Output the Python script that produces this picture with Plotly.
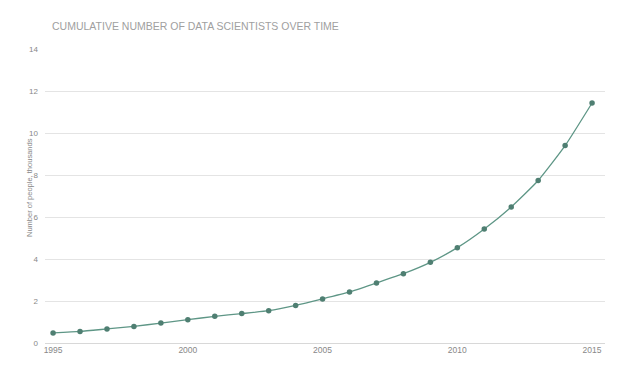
import plotly.graph_objects as go

years = list(range(1995, 2016))
values = [0.48, 0.55, 0.67, 0.79, 0.95, 1.11, 1.27, 1.40, 1.54, 1.79,
          2.10, 2.43, 2.86, 3.30, 3.84, 4.54, 5.43, 6.48, 7.74, 9.40, 11.43]
x_ticks = [1995, 2000, 2005, 2010, 2015]
y_ticks = [0, 2, 4, 6, 8, 10, 12, 14]

title_text = "CUMULATIVE NUMBER OF DATA SCIENTISTS OVER TIME"
y_title = "Number of people, thousands"

fig = go.Figure()
fig.add_trace(go.Scatter(
    x=years, y=values, mode="lines+markers",
    line=dict(color="#5e9686", width=1.3, shape="spline", smoothing=0.5),
    marker=dict(color="#4f7f72", size=5.5),
    showlegend=False, hoverinfo="skip",
))

# page has an 8px body margin, so the figure is shrunk/offset to compensate
fig.update_layout(
    width=632, height=359,
    margin=dict(l=37, r=35, t=41, b=24, autoexpand=False),
    paper_bgcolor="white", plot_bgcolor="white",
    font=dict(family="Liberation Sans, Arial, sans-serif", color="#888888"),
    xaxis=dict(
        range=[1994.70, 2015.48], tickvals=x_ticks,
        ticktext=[str(v) for v in x_ticks], automargin=False,
        showgrid=False, zeroline=False, showline=False,
        tickfont=dict(size=8.5, color="#888888"), ticks="",
    ),
    yaxis=dict(
        range=[0, 14], tickvals=y_ticks, automargin=False,
        showgrid=True, gridcolor="#e4e4e4", gridwidth=1,
        zeroline=True, zerolinecolor="#d8d8d8", zerolinewidth=1,
        showline=False, ticks="", ticklabelstandoff=6,
        tickfont=dict(size=8, color="#888888"),
    ),
    annotations=[
        dict(text=title_text, xref="paper", yref="paper",
             x=(50 - 45) / 560, y=(343 - 26) / 294, xanchor="left", yanchor="middle",
             showarrow=False, font=dict(size=10.5, color="#a0a0a0")),
        dict(text=y_title, xref="paper", yref="paper",
             x=(29 - 45) / 560, y=(343 - 188) / 294, xanchor="center", yanchor="middle",
             textangle=-90, showarrow=False, font=dict(size=7.5, color="#888888")),
    ],
)

fig.write_html("out.html")
